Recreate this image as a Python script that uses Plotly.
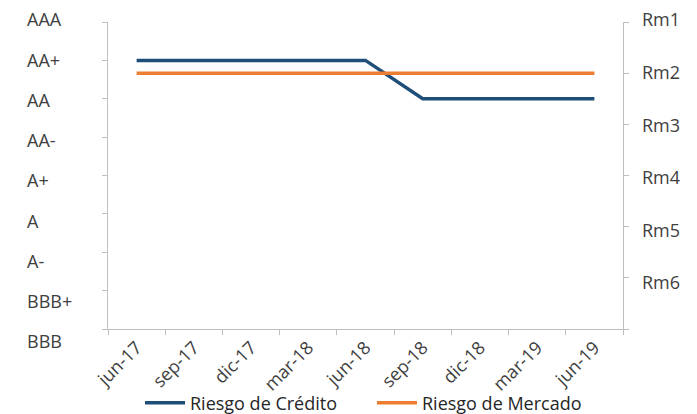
import plotly.graph_objects as go

# ---- data ----
quarters = ["jun-17", "sep-17", "dic-17", "mar-18", "jun-18", "sep-18", "dic-18", "mar-19", "jun-19"]
credit_scale = ["BBB", "BBB+", "A-", "A", "A+", "AA-", "AA", "AA+", "AAA"]  # bottom -> top
market_scale = ["Rm1", "Rm2", "Rm3", "Rm4", "Rm5", "Rm6"]                    # top -> bottom
credit_rating = ["AA+", "AA+", "AA+", "AA+", "AA+", "AA", "AA", "AA", "AA"]
market_rating = ["Rm2", "Rm2", "Rm2", "Rm2", "Rm2", "Rm2", "Rm2", "Rm2", "Rm2"]

credit_vals = [credit_scale.index(r) for r in credit_rating]
market_vals = [market_scale.index(r) + 1 for r in market_rating]

FONT = "Open Sans"
TXT = "#404040"
AX = "#bfbfbf"
FS = 18

OFF = 8  # page body margin
W, H = 697, 414
L, R = 10, 10
top_px, bot_px = 12 - OFF, 342 - OFF  # figure coords of the label band
pw = W - L - R
ph = bot_px - top_px


def fx(px):  # page pixel -> paper fraction
    return (px - OFF - L) / pw


def fy(py):
    return (bot_px - (py - OFF)) / ph


fig = go.Figure()
fig.add_trace(go.Scatter(x=quarters, y=credit_vals, mode="lines", name="Riesgo de Crédito",
                         line=dict(color="#1F4E79", width=3.5), yaxis="y"))
fig.add_trace(go.Scatter(x=quarters, y=market_vals, mode="lines", name="Riesgo de Mercado",
                         line=dict(color="#ED7D31", width=3.5), yaxis="y2"))
# helper traces for label-only axes
fig.add_trace(go.Scatter(x=[quarters[0]], y=[None], yaxis="y3", showlegend=False, hoverinfo="skip"))
fig.add_trace(go.Scatter(x=[quarters[0]], y=[None], yaxis="y4", showlegend=False, hoverinfo="skip"))

dom = [fy(329), fy(22)]
# label axis for ratings: BBB centred at page y 342, AAA at 20
lab_lo = 0 - (fy(342) - 0) * 8 / (fy(20) - fy(342))
lab_hi = 8 + (1 - fy(20)) * 8 / (fy(20) - fy(342))
# label axis for Rm: Rm1 at 20, Rm6 at 283
rm_per = (283 - 20) / 5
rm_top = 1 - (20 - 12) / rm_per
rm_bot = 1 + (342 - 20) / rm_per

fig.update_layout(
    width=W, height=H,
    margin=dict(l=L, r=R, t=top_px, b=H - bot_px, autoexpand=False),
    paper_bgcolor="white", plot_bgcolor="rgba(0,0,0,0)",
    font=dict(family=FONT, size=FS, color=TXT),
    showlegend=True,
    legend=dict(orientation="h", xref="container", yref="container",
                x=(140 - OFF) / W, y=(H - (403 - OFF)) / H, yanchor="middle", xanchor="left",
                font=dict(size=FS, color="#262626"), entrywidth=177, itemwidth=40,
                bgcolor="rgba(0,0,0,0)"),
    xaxis=dict(type="category", range=[-0.5, 8.5], tickson="boundaries", ticks="outside",
               domain=[fx(108), fx(623)], automargin=False,
               ticklen=5, tickcolor=AX, showline=True, linecolor=AX, linewidth=1,
               showgrid=False, zeroline=False, tickangle=-45, anchor="y",
               tickfont=dict(size=FS, color=TXT)),
    yaxis=dict(domain=dom, range=[0, 8], tickvals=list(range(9)), showticklabels=False,
               ticks="outside", ticklen=5, tickcolor=AX, showline=True, linecolor=AX,
               showgrid=False, zeroline=False, anchor="x", automargin=False),
    yaxis2=dict(overlaying="y", side="right", range=[7, 1], tickvals=list(range(1, 8)),
                showticklabels=False, ticks="outside", ticklen=5, tickcolor=AX,
                showline=True, linecolor=AX, showgrid=False, zeroline=False, anchor="x",
                automargin=False),
    yaxis3=dict(domain=[0, 1], range=[lab_lo, lab_hi], tickvals=list(range(9)),
                ticktext=credit_scale, ticklabeloverflow="allow",
                showline=False, ticks="", showgrid=False, zeroline=False,
                anchor="free", position=fx(26), side="right", ticklabelstandoff=0,
                automargin=False, tickfont=dict(size=FS, color=TXT)),
    yaxis4=dict(domain=[0, 1], range=[rm_bot, rm_top],
                tickvals=list(range(1, 7)), ticktext=market_scale, ticklabeloverflow="allow",
                showline=False, ticks="", showgrid=False, zeroline=False,
                anchor="free", position=fx(641), side="right", ticklabelstandoff=0,
                automargin=False, tickfont=dict(size=FS, color=TXT)),
)

fig.write_html("out.html")
